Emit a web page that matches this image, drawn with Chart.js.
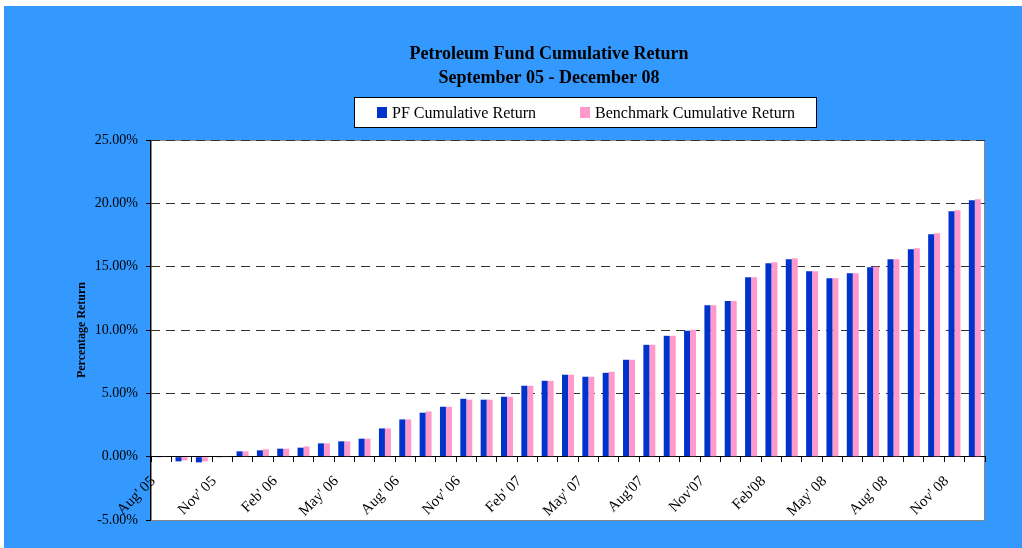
<!DOCTYPE html>
<html>
<head>
<meta charset="utf-8">
<script src="https://cdn.jsdelivr.net/npm/chart.js@4/dist/chart.umd.min.js"></script>
<style>
  html, body { margin: 0; padding: 0; background: #ffffff; }
  #wrap { width: 1022px; height: 548px; }
</style>
</head>
<body>
<div id="wrap"><canvas id="c" width="1022" height="548"></canvas></div>
<script>
const categories = ["Aug' 05","Sep' 05","Oct' 05","Nov' 05","Dec' 05","Jan' 06","Feb' 06","Mar' 06","Apr' 06","May' 06","Jun' 06","Jul' 06","Aug' 06","Sep' 06","Oct' 06","Nov' 06","Dec' 06","Jan' 07","Feb' 07","Mar' 07","Apr' 07","May' 07","Jun' 07","Jul' 07","Aug'07","Sep'07","Oct'07","Nov'07","Dec'07","Jan'08","Feb'08","Mar'08","Apr'08","May' 08","Jun' 08","Jul' 08","Aug' 08","Sep' 08","Oct' 08","Nov' 08","Dec' 08"];
const pfReturn = [-0.05,-0.37,-0.45,-0.05,0.42,0.50,0.63,0.71,1.05,1.21,1.42,2.23,2.94,3.47,3.94,4.57,4.50,4.73,5.60,5.99,6.47,6.31,6.62,7.65,8.83,9.54,9.94,11.96,12.28,14.17,15.27,15.59,14.64,14.09,14.49,14.96,15.59,16.38,17.56,19.38,20.25];
const benchmarkReturn = [-0.02,-0.29,-0.37,-0.02,0.42,0.58,0.63,0.81,1.05,1.21,1.42,2.23,2.94,3.57,3.94,4.50,4.50,4.73,5.60,5.99,6.47,6.31,6.70,7.65,8.83,9.54,10.02,11.96,12.28,14.17,15.35,15.67,14.64,14.09,14.49,15.00,15.59,16.46,17.64,19.46,20.33];
const seriesNames = ["PF Cumulative Return", "Benchmark Cumulative Return"];
const titleLines = ["Petroleum Fund Cumulative Return", "September 05 - December 08"];
const yAxisTitle = "Percentage Return";
const labelEvery = 3;

const SERIF = "'Liberation Serif', 'Times New Roman', serif";
const BLUE = '#0033CC';
const PINK = '#FF99CC';

const backgroundPlugin = {
  id: 'bgPlugin',
  beforeDraw(chart) {
    const ctx = chart.ctx;
    const a = chart.chartArea;
    ctx.save();
    ctx.fillStyle = '#ffffff';
    ctx.fillRect(0, 0, chart.width, chart.height);
    ctx.fillStyle = '#3399FF';
    ctx.fillRect(4, 6, chart.width - 4, chart.height - 6);
    ctx.fillStyle = '#ffffff';
    ctx.fillRect(a.left, a.top, a.right - a.left, a.bottom - a.top);
    ctx.strokeStyle = '#888888';
    ctx.lineWidth = 1;
    ctx.strokeRect(a.left + 0.5, a.top + 0.5, a.right - a.left - 1, a.bottom - a.top);
    ctx.restore();
  },
  afterDraw(chart) {
    const ctx = chart.ctx;
    const a = chart.chartArea;
    ctx.save();
    // solid value axis line
    ctx.strokeStyle = '#000000';
    ctx.lineWidth = 1;
    ctx.setLineDash([]);
    ctx.beginPath();
    ctx.moveTo(Math.round(a.left) - 0.5, a.top);
    ctx.lineTo(Math.round(a.left) - 0.5, a.bottom + 1);
    ctx.stroke();
    // Title
    ctx.fillStyle = '#000000';
    ctx.textAlign = 'center';
    ctx.textBaseline = 'alphabetic';
    ctx.font = "bold 18px " + SERIF;
    ctx.fillText(titleLines[0], 549, 59);
    ctx.fillText(titleLines[1], 549, 83);
    // Legend box
    const lx = 354, ly = 97, lw = 462, lh = 30;
    ctx.fillStyle = '#ffffff';
    ctx.fillRect(lx, ly, lw, lh);
    ctx.strokeStyle = '#000000';
    ctx.lineWidth = 1;
    ctx.strokeRect(lx + 0.5, ly + 0.5, lw, lh);
    const items = [
      {x: 377, color: chart.data.datasets[0].backgroundColor, text: chart.data.datasets[0].label},
      {x: 580, color: chart.data.datasets[1].backgroundColor, text: chart.data.datasets[1].label}
    ];
    ctx.font = "16px " + SERIF;
    ctx.textAlign = 'left';
    items.forEach(it => {
      ctx.fillStyle = it.color;
      ctx.fillRect(it.x, 107, 10, 11);
      ctx.fillStyle = '#000000';
      ctx.fillText(it.text, it.x + 15, 118);
    });
    ctx.restore();
  }
};

new Chart(document.getElementById('c'), {
  type: 'bar',
  data: {
    labels: categories,
    datasets: [
      { label: seriesNames[0], data: pfReturn, backgroundColor: BLUE, borderWidth: 0 },
      { label: seriesNames[1], data: benchmarkReturn, backgroundColor: PINK, borderWidth: 0 }
    ]
  },
  options: {
    responsive: false,
    animation: false,
    devicePixelRatio: 1,
    categoryPercentage: 1 / 1.7,
    barPercentage: 1.0,
    layout: { padding: { left: 75, top: 140, right: 37, bottom: 28 } },
    plugins: {
      legend: { display: false },
      title: { display: false },
      tooltip: { enabled: false }
    },
    scales: {
      x: {
        type: 'category',
        position: { y: 0 },
        offset: true,
        border: { display: true, color: '#000000', width: 1 },
        grid: {
          display: true,
          drawOnChartArea: false,
          drawTicks: true,
          tickLength: 5,
          tickColor: '#000000',
          offset: true
        },
        ticks: {
          autoSkip: false,
          maxRotation: 45,
          minRotation: 45,
          padding: 11,
          labelOffset: -8,
          color: '#000000',
          font: { family: SERIF, size: 15 },
          callback: function(value, index) {
            return index % labelEvery === 0 ? this.getLabelForValue(value) : '';
          }
        }
      },
      y: {
        min: -5,
        max: 25,
        afterFit(scale) { scale.width = 76; },
        border: { display: false, color: '#000000', width: 1, dash: [9, 6] },
        grid: {
          color: (c) => (c.tick && c.tick.value === -5) ? 'rgba(0,0,0,0)' : '#333333',
          tickBorderDash: [],
          tickColor: '#000000',
          tickLength: 5,
          drawTicks: true,
          lineWidth: 1
        },
        ticks: {
          stepSize: 5,
          padding: 8,
          color: '#000000',
          font: { family: SERIF, size: 14 },
          callback: (v) => v.toFixed(2) + '%'
        },
        title: {
          display: true,
          text: yAxisTitle,
          color: '#000000',
          padding: 0,
          font: { family: SERIF, size: 12, weight: 'bold' }
        }
      }
    }
  },
  plugins: [backgroundPlugin]
});
</script>
</body>
</html>
